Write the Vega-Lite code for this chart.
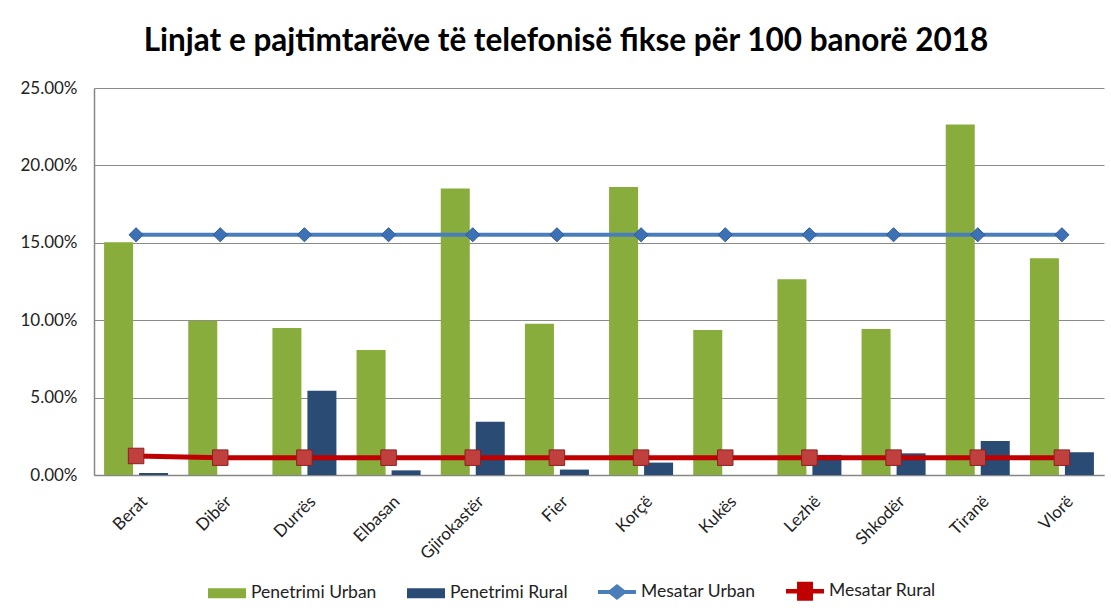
{
  "$schema": "https://vega.github.io/schema/vega-lite/v6.json",
  "width": 1010,
  "height": 387,
  "autosize": {"type": "none"},
  "padding": {"left": 94, "top": 88, "right": 7, "bottom": 140},
  "background": "white",
  "title": {
    "text": "Linjat e pajtimtarëve të telefonisë fikse për 100 banorë 2018",
    "font": "Lato",
    "fontSize": 31.5,
    "fontWeight": "bold",
    "color": "#000000",
    "anchor": "middle",
    "frame": "group",
    "baseline": "alphabetic",
    "dx": -33,
    "dy": 28,
    "offset": 25
  },
  "data": {
    "values": [
      {"district": "Berat", "series": "Penetrimi Urban", "value": 0.1503},
      {"district": "Berat", "series": "Penetrimi Rural", "value": 0.0013},
      {"district": "Berat", "series": "Mesatar Urban", "value": 0.1552},
      {"district": "Berat", "series": "Mesatar Rural", "value": 0.0123},
      {"district": "Dibër", "series": "Penetrimi Urban", "value": 0.0997},
      {"district": "Dibër", "series": "Penetrimi Rural", "value": 0.0},
      {"district": "Dibër", "series": "Mesatar Urban", "value": 0.1552},
      {"district": "Dibër", "series": "Mesatar Rural", "value": 0.0112},
      {"district": "Durrës", "series": "Penetrimi Urban", "value": 0.095},
      {"district": "Durrës", "series": "Penetrimi Rural", "value": 0.0545},
      {"district": "Durrës", "series": "Mesatar Urban", "value": 0.1552},
      {"district": "Durrës", "series": "Mesatar Rural", "value": 0.0112},
      {"district": "Elbasan", "series": "Penetrimi Urban", "value": 0.0807},
      {"district": "Elbasan", "series": "Penetrimi Rural", "value": 0.003},
      {"district": "Elbasan", "series": "Mesatar Urban", "value": 0.1552},
      {"district": "Elbasan", "series": "Mesatar Rural", "value": 0.0112},
      {"district": "Gjirokastër", "series": "Penetrimi Urban", "value": 0.185},
      {"district": "Gjirokastër", "series": "Penetrimi Rural", "value": 0.0344},
      {"district": "Gjirokastër", "series": "Mesatar Urban", "value": 0.1552},
      {"district": "Gjirokastër", "series": "Mesatar Rural", "value": 0.0112},
      {"district": "Fier", "series": "Penetrimi Urban", "value": 0.0977},
      {"district": "Fier", "series": "Penetrimi Rural", "value": 0.0035},
      {"district": "Fier", "series": "Mesatar Urban", "value": 0.1552},
      {"district": "Fier", "series": "Mesatar Rural", "value": 0.0112},
      {"district": "Korçë", "series": "Penetrimi Urban", "value": 0.186},
      {"district": "Korçë", "series": "Penetrimi Rural", "value": 0.008},
      {"district": "Korçë", "series": "Mesatar Urban", "value": 0.1552},
      {"district": "Korçë", "series": "Mesatar Rural", "value": 0.0112},
      {"district": "Kukës", "series": "Penetrimi Urban", "value": 0.0937},
      {"district": "Kukës", "series": "Penetrimi Rural", "value": 0.0},
      {"district": "Kukës", "series": "Mesatar Urban", "value": 0.1552},
      {"district": "Kukës", "series": "Mesatar Rural", "value": 0.0112},
      {"district": "Lezhë", "series": "Penetrimi Urban", "value": 0.1264},
      {"district": "Lezhë", "series": "Penetrimi Rural", "value": 0.013},
      {"district": "Lezhë", "series": "Mesatar Urban", "value": 0.1552},
      {"district": "Lezhë", "series": "Mesatar Rural", "value": 0.0112},
      {"district": "Shkodër", "series": "Penetrimi Urban", "value": 0.0943},
      {"district": "Shkodër", "series": "Penetrimi Rural", "value": 0.014},
      {"district": "Shkodër", "series": "Mesatar Urban", "value": 0.1552},
      {"district": "Shkodër", "series": "Mesatar Rural", "value": 0.0112},
      {"district": "Tiranë", "series": "Penetrimi Urban", "value": 0.2265},
      {"district": "Tiranë", "series": "Penetrimi Rural", "value": 0.022},
      {"district": "Tiranë", "series": "Mesatar Urban", "value": 0.1552},
      {"district": "Tiranë", "series": "Mesatar Rural", "value": 0.0112},
      {"district": "Vlorë", "series": "Penetrimi Urban", "value": 0.14},
      {"district": "Vlorë", "series": "Penetrimi Rural", "value": 0.0147},
      {"district": "Vlorë", "series": "Mesatar Urban", "value": 0.1552},
      {"district": "Vlorë", "series": "Mesatar Rural", "value": 0.0112}
    ]
  },
  "encoding": {
    "x": {
      "field": "district",
      "type": "nominal",
      "sort": null,
      "title": null,
      "scale": {"paddingInner": 0, "paddingOuter": 0},
      "axis": {
        "labelAngle": -45,
        "labelAlign": "right",
        "labelBaseline": "top",
        "labelPadding": 18,
        "labelOffset": 3,
        "labelFont": "Lato",
        "labelFontSize": 17,
        "labelColor": "#222222",
        "ticks": false,
        "domainColor": "#868686",
        "domainWidth": 1.5,
        "grid": false
      }
    },
    "y": {
      "field": "value",
      "type": "quantitative",
      "title": null,
      "scale": {"domain": [0, 0.25], "nice": false},
      "axis": {
        "values": [0, 0.05, 0.1, 0.15, 0.2, 0.25],
        "format": ".2%",
        "labelFont": "Lato",
        "labelFontSize": 17,
        "labelColor": "#222222",
        "labelPadding": 17,
        "ticks": false,
        "domainColor": "#868686",
        "domainWidth": 1.5,
        "gridColor": "#8a8a8a",
        "gridWidth": 1.2
      }
    }
  },
  "layer": [
    {
      "transform": [{"filter": "datum.series === 'Penetrimi Urban' || datum.series === 'Penetrimi Rural'"}],
      "mark": {"type": "bar", "strokeWidth": 0},
      "encoding": {
        "xOffset": {
          "field": "series",
          "type": "nominal",
          "scale": {"domain": ["Penetrimi Urban", "Penetrimi Rural"], "paddingInner": 0.171, "paddingOuter": 0.288}
        },
        "color": {
          "field": "series",
          "type": "nominal",
          "scale": {
            "domain": ["Penetrimi Urban", "Penetrimi Rural", "Mesatar Urban", "Mesatar Rural"],
            "range": ["#88ad3d", "#2a4b73", "#4a7ebb", "#c00000"]
          },
          "legend": {
            "title": null,
            "orient": "none",
            "direction": "horizontal",
            "legendX": 113,
            "legendY": 483,
            "symbolSize": 1444,
            "labelFont": "Lato",
            "labelFontSize": 17.5,
            "labelColor": "#222222",
            "labelOffset": 4,
            "columnPadding": 27,
            "padding": 0,
            "encode": {
              "symbols": {
                "update": {
                  "shape": {"signal": "datum.value === 'Penetrimi Urban' || datum.value === 'Penetrimi Rural' ? 'M-1,-0.26H1V0.26H-1Z' : (datum.value === 'Mesatar Urban' ? 'M-1,-0.1H-0.4L0,-0.42L0.4,-0.1H1V0.1H0.4L0,0.42L-0.4,0.1H-1Z' : 'M-1,-0.12H-0.42V-0.5H0.42V-0.12H1V0.12H0.42V0.5H-0.42V0.12H-1Z')"},
                  "fill": {"signal": "scale('color', datum.value)"},
                  "stroke": {"value": "transparent"},
                  "opacity": {"value": 1},
                  "fillOpacity": {"value": 1}
                }
              }
            }
          }
        }
      }
    },
    {
      "transform": [{"filter": "datum.series === 'Mesatar Urban'"}],
      "mark": {"type": "line", "color": "#4a7ebb", "strokeWidth": 4}
    },
    {
      "transform": [{"filter": "datum.series === 'Mesatar Urban'"}],
      "mark": {"type": "point", "shape": "diamond", "filled": true, "size": 200, "fill": "#3c72b5", "stroke": "#2d5a94", "strokeWidth": 1, "opacity": 1}
    },
    {
      "transform": [{"filter": "datum.series === 'Mesatar Rural'"}],
      "mark": {"type": "line", "color": "#c00000", "strokeWidth": 5}
    },
    {
      "transform": [{"filter": "datum.series === 'Mesatar Rural'"}],
      "mark": {"type": "point", "shape": "square", "filled": true, "size": 240, "fill": "#c0403e", "stroke": "#8b2020", "strokeWidth": 1, "opacity": 1}
    }
  ],
  "config": {
    "view": {"stroke": null},
    "font": "Lato"
  }
}
